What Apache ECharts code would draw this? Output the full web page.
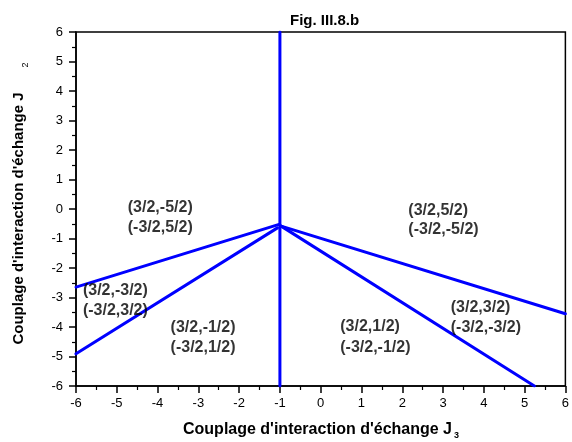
<!DOCTYPE html>
<html>
<head>
<meta charset="utf-8">
<script src="https://cdn.jsdelivr.net/npm/echarts@6/dist/echarts.min.js"></script>
<style>
html,body{margin:0;padding:0;background:#fff;}
#chart{width:572px;height:442px;}
</style>
</head>
<body>
<div id="chart"></div>
<script>
// ---- data ----
const xTicks = [-6,-5,-4,-3,-2,-1,0,1,2,3,4,5,6];
const yTicks = [-6,-5,-4,-3,-2,-1,0,1,2,3,4,5,6];
const verticalLine = [[-1,-6],[-1,6]];
const upperLeftLine = [[-6,-2.65],[-1.04,-0.53]];
const lowerLeftLine = [[-6,-4.91],[-1.06,-0.64]];
const upperRightLine = [[-0.97,-0.58],[6,-3.55]];
const lowerRightLine = [[-0.97,-0.58],[5.24,-6]];
const regionLabels = ["(3/2,-5/2)","(-3/2,5/2)","(3/2,5/2)","(-3/2,-5/2)","(3/2,-3/2)","(-3/2,3/2)","(3/2,-1/2)","(-3/2,1/2)","(3/2,1/2)","(-3/2,-1/2)","(3/2,3/2)","(-3/2,-3/2)"];
const regionLabelX = [-4.73,-4.73,2.15,2.15,-5.83,-5.83,-3.68,-3.68,0.48,0.48,3.19,3.19];
const regionLabelY = [0.06,-0.62,-0.04,-0.69,-2.78,-3.44,-4.01,-4.69,-3.98,-4.69,-3.35,-4.01];
const titleText = "Fig. III.8.b";
const xTitle = "Couplage d'interaction d'échange J";
const xSub = "3";
const yTitle = "Couplage d'interaction d'échange J";
const ySub = "2";

const FONT = "Liberation Sans, Arial, sans-serif";
const chart = echarts.init(document.getElementById('chart'));
const lineStyle = {color:'#0000ff', width:3, cap:'round'};
function lineSeries(d){
  return {type:'line', data:d, showSymbol:false, symbol:'none', lineStyle:lineStyle, silent:true, z:3, animation:false};
}
const axisCommon = {
  min:-6, max:6, interval:1,
  axisLine:{show:true, onZero:false, lineStyle:{color:'#000', width:1.5}},
  axisTick:{show:true, inside:false, length:7, lineStyle:{color:'#000', width:1.5}},
  minorTick:{show:true, splitNumber:2, length:4, lineStyle:{color:'#000', width:1.2}},
  splitLine:{show:false},
  minorSplitLine:{show:false}
};
chart.setOption({
  animation:false,
  backgroundColor:'#fff',
  title:{text:titleText, left:285, top:8, textStyle:{fontFamily:FONT, fontWeight:'bold', fontSize:15, color:'#000'}},
  grid:{left:76, right:4, top:32, bottom:56, show:true, borderColor:'#000', borderWidth:1.5, containLabel:false},
  xAxis:Object.assign({type:'value', axisLabel:{fontFamily:FONT, fontSize:13, color:'#000', margin:11,
    formatter:v=>xTicks.includes(v)?String(v):''}}, axisCommon),
  yAxis:Object.assign({type:'value', axisLabel:{fontFamily:FONT, fontSize:13, color:'#000', margin:13,
    formatter:v=>yTicks.includes(v)?String(v):''}}, axisCommon),
  graphic:[
    {type:'text', x:321, y:430, silent:true, style:{text:xTitle+'{s|'+xSub+'}', font:'bold 16px '+FONT, fill:'#000', align:'center', verticalAlign:'middle',
      rich:{s:{fontSize:9, fontWeight:'bold', fontFamily:FONT, fill:'#000', padding:[12,0,0,2]}}}},
    {type:'text', x:19, y:218.5, rotation:Math.PI/2, silent:true, style:{text:yTitle, font:'bold 15px '+FONT, fill:'#000', align:'center', verticalAlign:'middle'}},
    {type:'text', x:26, y:65, rotation:Math.PI/2, silent:true, style:{text:ySub, font:'9px '+FONT, fill:'#000', align:'center', verticalAlign:'middle'}}
  ],
  series:[
    lineSeries(verticalLine),
    lineSeries(upperLeftLine),
    lineSeries(lowerLeftLine),
    lineSeries(upperRightLine),
    lineSeries(lowerRightLine),
    {type:'scatter', symbolSize:0, silent:true, z:4,
      data:regionLabels.map((t,i)=>({value:[regionLabelX[i], regionLabelY[i]], name:t})),
      label:{show:true, position:'right', distance:0, formatter:p=>p.name, fontFamily:FONT, fontWeight:'bold', fontSize:16, color:'#000'}}
  ]
});
</script>
</body>
</html>
